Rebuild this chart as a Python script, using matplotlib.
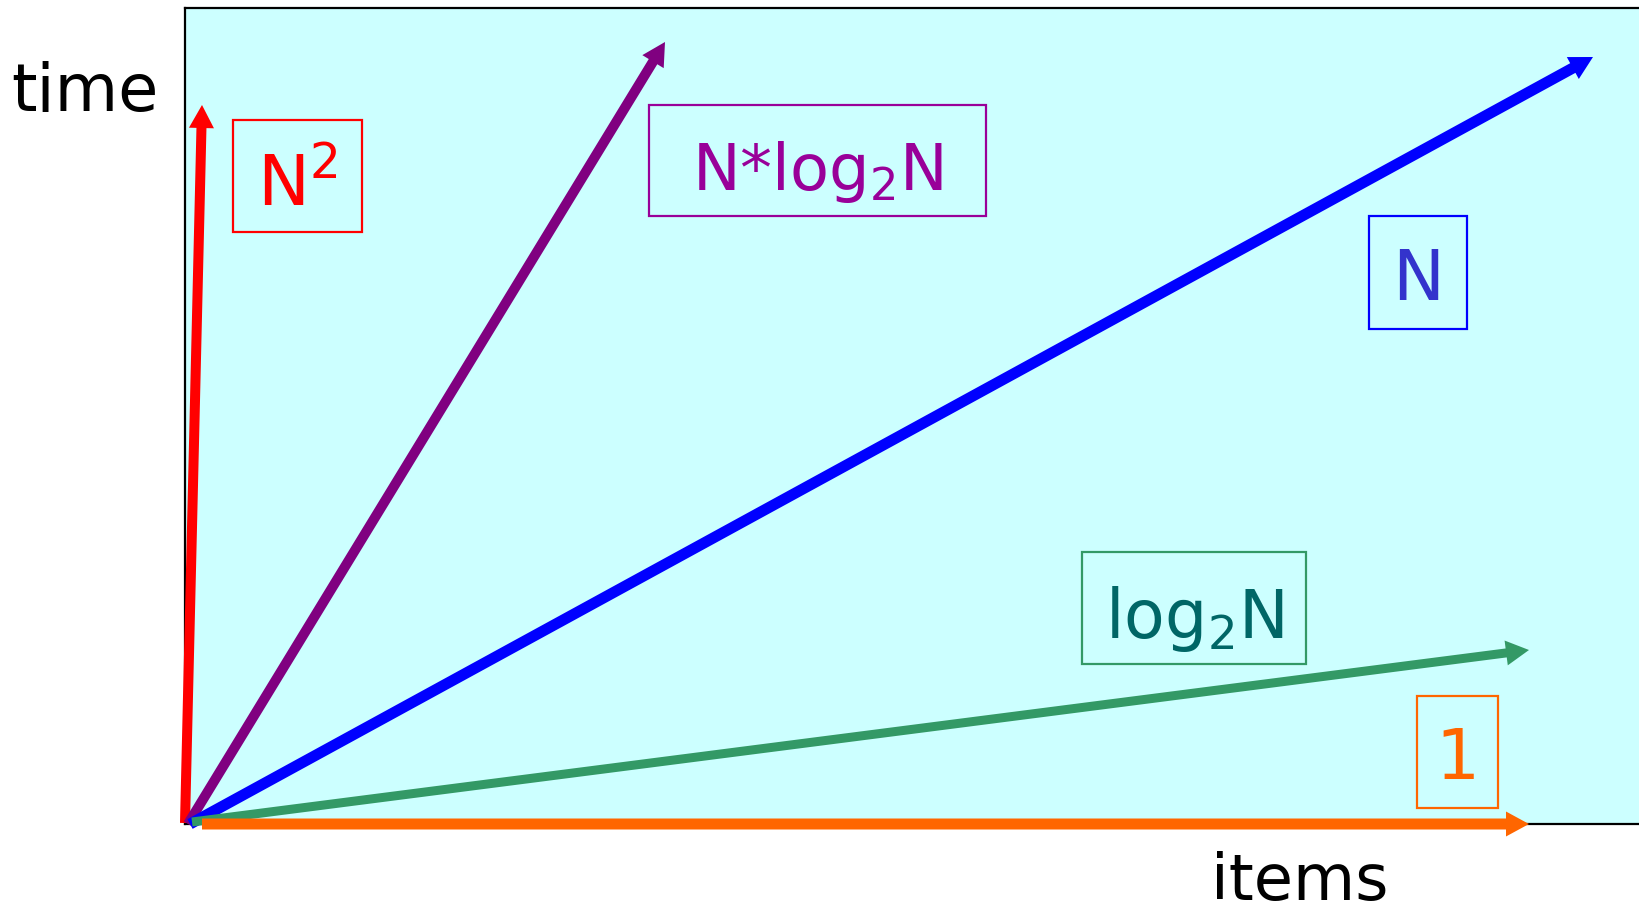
import matplotlib
matplotlib.use("Agg")
import matplotlib.pyplot as plt
from matplotlib.patches import Rectangle

plt.rcParams["font.family"] = ["DejaVu Sans"]
plt.rcParams["mathtext.default"] = "regular"

# growth curves drawn as arrows from the origin (data units ~ pixels)
labels = ["N$^2$", "N*log$_2$N", "N", "log$_2$N", "1"]
tail_x = [0, 3, 5, 7, 17]
tail_y = [1, 0, 0, 2, 0]
tip_x = [17, 480, 1408, 1344, 1344]
tip_y = [719, 782, 767, 174, 0]

line_colors = ["#ff0000", "#800080", "#0000ff", "#339966", "#ff6600"]
text_colors = ["#ff0000", "#990099", "#3333cc", "#006666", "#ff6600"]
box_colors = ["#ff0000", "#990099", "#0000ff", "#339966", "#ff6600"]
line_widths = [10, 10, 11, 9, 11]

# label boxes: (x0, y0, w, h) and text baseline
boxes = [
    (48, 592, 129, 112),
    (464, 608, 337, 111),
    (1184, 495, 98, 113),
    (897, 160, 224, 112),
    (1232, 16, 81, 112),
]
baselines = [618, 634, 524, 186, 45]
label_sizes = [50, 46, 50, 48, 50]

W, H = 1639, 913
fig = plt.figure(figsize=(W / 100, H / 100), dpi=100)
x0, y0 = 185, 824
ax = fig.add_axes([x0 / W, (H - y0) / H, (W - x0) / W, (y0 - 8) / H])
ax.set_xlim(0, W - x0)
ax.set_ylim(0, y0 - 8)
ax.set_facecolor("#ccffff")
ax.set_xticks([])
ax.set_yticks([])
ax.spines["right"].set_visible(False)
for s in ["top", "left", "bottom"]:
    ax.spines[s].set_linewidth(1.6)
    ax.spines[s].set_zorder(1)

for i in range(len(labels)):
    ax.arrow(
        tail_x[i], tail_y[i],
        tip_x[i] - tail_x[i], tip_y[i] - tail_y[i],
        width=line_widths[i], head_width=25, head_length=23,
        length_includes_head=True, color=line_colors[i], lw=0,
        clip_on=False, zorder=3 + i,
    )
    bx, by, bw, bh = boxes[i]
    ax.add_patch(Rectangle((bx, by), bw, bh, fill=False,
                           edgecolor=box_colors[i], lw=1.6, zorder=2))
    ax.text(bx + bw / 2, baselines[i], labels[i], color=text_colors[i],
            fontsize=label_sizes[i], ha="center", va="baseline", zorder=10)

fig.text(85 / W, 1 - 111 / H, "time", fontsize=47, ha="center", va="baseline")
fig.text(1300 / W, 1 - 900 / H, "items", fontsize=46, ha="center", va="baseline")

fig.savefig("out.png", dpi=100, facecolor="white")
